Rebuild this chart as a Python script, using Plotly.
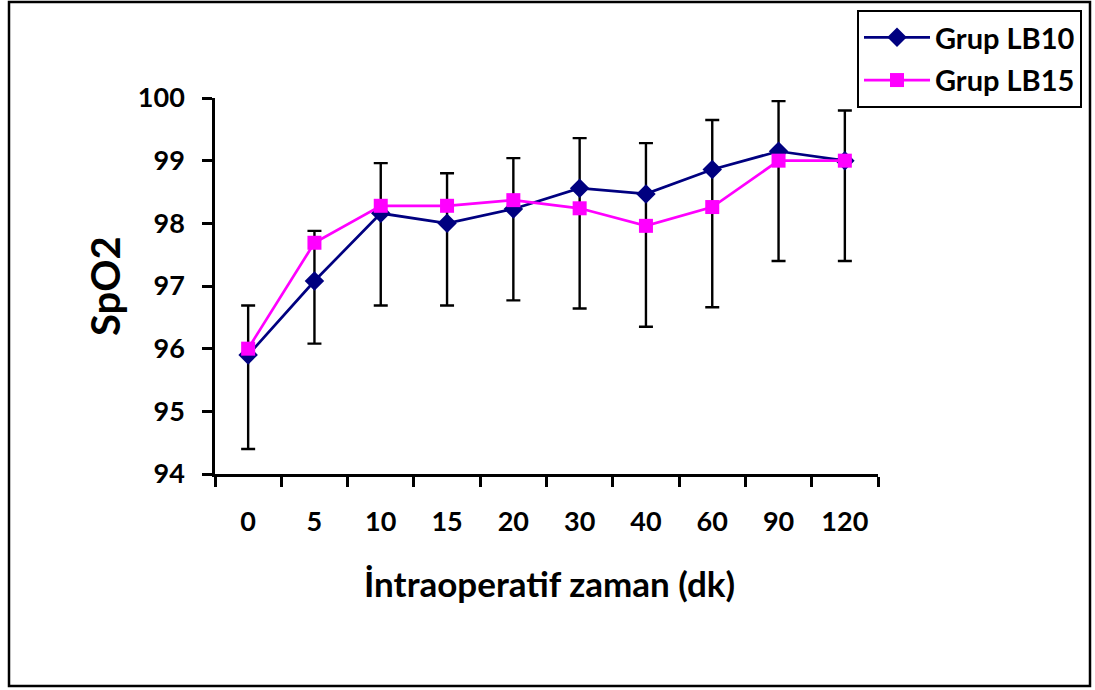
import plotly.graph_objects as go

categories = ["0", "5", "10", "15", "20", "30", "40", "60", "90", "120"]
lb10 = [95.90, 97.08, 98.16, 98.00, 98.23, 98.56, 98.47, 98.86, 99.15, 99.00]
lb15 = [96.00, 97.69, 98.28, 98.28, 98.37, 98.24, 97.96, 98.26, 99.00, 99.00]
err_top = [96.69, 97.88, 98.96, 98.80, 99.04, 99.36, 99.28, 99.65, 99.95, 99.80]
err_bottom = [94.40, 96.08, 96.69, 96.69, 96.77, 96.64, 96.35, 96.66, 97.40, 97.40]
y_ticks = [94, 95, 96, 97, 98, 99, 100]

W, H = 1095, 690
L, R, T, B = 215, 878, 98, 474  # plot area in pixels
pw, ph = R - L, B - T


def px(x):
    return (x - L) / pw


def py(y):
    return (B - y) / ph


FONT = "Lato"

fig = go.Figure()
fig.add_trace(go.Scatter(
    x=categories, y=lb10, name="Grup LB10", mode="lines+markers", legendgroup="a",
    line=dict(color="#000080", width=2.7),
    marker=dict(symbol="diamond", size=15, color="#000080"),
    error_y=dict(type="data", symmetric=False,
                 array=[t - v for t, v in zip(err_top, lb10)],
                 arrayminus=[v - b for v, b in zip(lb10, err_bottom)],
                 color="black", thickness=2.4, width=7),
))
fig.add_trace(go.Scatter(
    x=categories, y=lb15, name="Grup LB15", mode="lines+markers", legendgroup="b",
    line=dict(color="#FF00FF", width=2.7),
    marker=dict(symbol="square", size=14, color="#FF00FF"),
))

fig.update_layout(
    width=W, height=H,
    margin=dict(l=L, r=W - R, t=T, b=H - B, pad=0, autoexpand=False),
    paper_bgcolor="white", plot_bgcolor="white",
    font=dict(family=FONT, color="black", size=27),
    showlegend=True,
    legend=dict(xref="container", yref="container", x=857 / W, y=1 - 10 / H,
                xanchor="left", yanchor="top",
                bordercolor="black", borderwidth=2, bgcolor="white",
                font=dict(family=FONT, size=29, color="black", weight="bold"),
                itemwidth=66, tracegroupgap=2, entrywidth=158, entrywidthmode="pixels"),
    xaxis=dict(type="category", range=[-0.5, 9.5], showgrid=False, zeroline=False,
               showline=True, linecolor="black", linewidth=2.5,
               ticks="outside", tickson="boundaries", ticklen=10, tickwidth=2.5, tickcolor="black",
               tickfont=dict(family=FONT, size=27, color="black", weight="bold"),
               ticklabelstandoff=22),
    yaxis=dict(range=[94, 100], tickvals=y_ticks, showgrid=False, zeroline=False,
               showline=True, linecolor="black", linewidth=2.5,
               ticks="outside", ticklen=10, tickwidth=2.5, tickcolor="black",
               tickfont=dict(family=FONT, size=27, color="black", weight="bold"),
               ticklabelstandoff=12),
    shapes=[dict(type="rect", xref="paper", yref="paper",
                 x0=px(9), x1=px(1090), y0=py(686), y1=py(2),
                 line=dict(color="black", width=2.5), layer="below")],
    annotations=[
        dict(text="İntraoperatif zaman (dk)", xref="paper", yref="paper",
             x=px(549), y=py(583), xanchor="center", yanchor="middle", showarrow=False,
             font=dict(family=FONT, size=35, color="black", weight="bold")),
        dict(text="SpO2", xref="paper", yref="paper", textangle=-90,
             x=px(105), y=py(286), xanchor="center", yanchor="middle", showarrow=False,
             font=dict(family=FONT, size=40, color="black", weight="bold")),
    ],
)

fig.write_html("out.html", config={"displayModeBar": False},
               post_script="document.body.style.margin='0';document.body.style.overflow='hidden';")
